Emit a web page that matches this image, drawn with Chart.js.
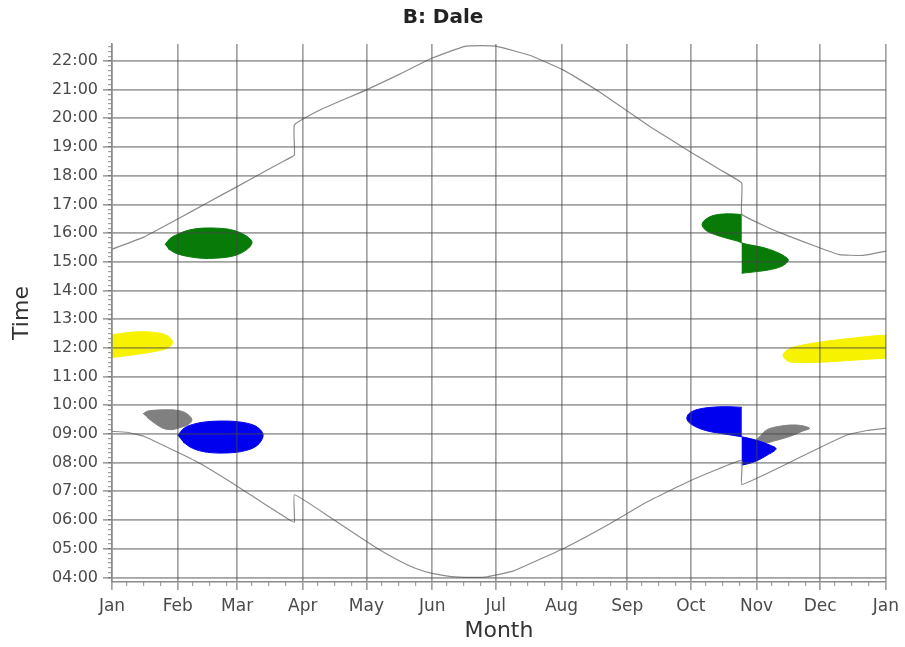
<!DOCTYPE html>
<html lang="en">
<head>
<meta charset="UTF-8">
<title>B: Dale</title>
<script src="https://cdn.jsdelivr.net/npm/chart.js"></script>
<style>
    body { margin: 0; background: #ffffff; }
    #wrap { width: 905px; height: 647px; }
</style>
</head>
<body>
<div id="wrap"><canvas id="chart" width="905" height="647"></canvas></div>
<script>
// x = day of year (0 = 1 Jan), y = clock time in hours
const monthStarts = [0, 31, 59, 90, 120, 151, 181, 212, 243, 273, 304, 334, 365];
const monthLabels = ['Jan', 'Feb', 'Mar', 'Apr', 'May', 'Jun', 'Jul', 'Aug', 'Sep', 'Oct', 'Nov', 'Dec', 'Jan'];
const minorDayOffsets = [7, 15, 23];

// sunset line, with the clock changes at end of March / end of October
const sunsetDays  = [0, 15, 31, 45, 59, 73, 80, 86, 86, 98, 120, 136, 151, 166, 174, 182, 197, 213, 230, 254, 273, 287, 297, 297, 308, 318, 334, 343, 354, 365];
const sunsetHours = [15.44, 15.86, 16.49, 17.06, 17.62, 18.19, 18.47, 18.72, 19.77, 20.29, 20.99, 21.55, 22.1, 22.5, 22.53, 22.5, 22.2, 21.68, 20.92, 19.7, 18.82, 18.2, 17.74, 16.66, 16.24, 15.93, 15.48, 15.25, 15.22, 15.37];

// sunrise line
const sunriseDays  = [0, 7, 15, 31, 42, 59, 73, 79, 86, 86, 103, 114, 125, 135, 143, 151, 160, 169, 177, 189, 213, 235, 252, 273, 297, 297, 315, 334, 347, 356, 365];
const sunriseHours = [9.09, 9.06, 8.92, 8.36, 7.95, 7.18, 6.51, 6.23, 5.92, 6.88, 6.09, 5.55, 5.02, 4.6, 4.32, 4.14, 4.03, 4.0, 4.02, 4.22, 5.01, 5.88, 6.62, 7.38, 8.08, 7.24, 7.84, 8.53, 8.97, 9.12, 9.2];

// activity patches, outlines as [day, hour]
const greenEarly = [[25, 15.6], [27.5, 15.82], [31, 15.96], [36, 16.1], [42, 16.17], [50, 16.17], [56, 16.12], [62, 15.96], [66, 15.7], [64, 15.45], [58, 15.22], [50, 15.13], [41, 15.13], [31, 15.27], [26.5, 15.45]];
const greenLate = [[297, 16.65], [290, 16.67], [284, 16.62], [280, 16.48], [278.3, 16.3], [280, 16.1], [284, 15.96], [290, 15.82], [295, 15.72], [297, 15.66], [300, 15.6], [307, 15.5], [313, 15.35], [317, 15.2], [319, 15.05], [316, 14.85], [310, 14.72], [303, 14.65], [297, 14.6]];
const yellowEarly = [[-3, 12.44], [2, 12.48], [12, 12.56], [21, 12.53], [26, 12.43], [28.5, 12.22], [27, 12.02], [22, 11.9], [12, 11.78], [2, 11.68], [-3, 11.66]];
const yellowLate = [[368, 12.45], [360, 12.42], [349.5, 12.34], [334, 12.2], [321, 12.02], [318, 11.9], [316.5, 11.74], [318, 11.58], [321, 11.5], [334, 11.5], [349.5, 11.57], [360, 11.62], [368, 11.65]];
const grayEarly = [[14.6, 9.7], [17, 9.8], [25, 9.84], [31, 9.82], [35, 9.72], [37.7, 9.5], [36, 9.33], [32, 9.22], [28, 9.15], [24, 9.2], [20, 9.38], [16.5, 9.58]];
const grayLate = [[303, 8.72], [306, 8.95], [309, 9.15], [315, 9.27], [323, 9.31], [329, 9.2], [325, 9.08], [320, 8.92], [312, 8.75], [306, 8.62]];
const blueEarly = [[31, 8.95], [34, 9.2], [38, 9.33], [44, 9.42], [52, 9.45], [60, 9.42], [67, 9.3], [70.5, 9.1], [71.2, 8.9], [68.5, 8.6], [63, 8.42], [55, 8.34], [45, 8.36], [38, 8.5], [33.5, 8.72]];
const blueLate = [[297, 9.93], [290, 9.95], [283, 9.93], [276, 9.85], [272, 9.7], [271.2, 9.5], [274, 9.3], [280, 9.12], [287, 9.02], [293, 8.95], [297, 8.9], [304, 8.78], [310, 8.62], [313.2, 8.48], [309, 8.26], [303, 8.03], [297, 7.91]];

const GREEN = '#087a08', YELLOW = '#f6f200', GRAY = '#808080', BLUE = '#0000ee';
const GRID = 'rgba(70,70,70,0.5)';
const AXIS = '#8a8a8a';

Chart.defaults.font.family = "'DejaVu Sans', sans-serif";

function curve(days, hours) {
    return {
        data: days.map((d, i) => ({x: d, y: hours[i]})),
        borderColor: '#8c8c8c', borderWidth: 1.2,
        pointRadius: 0, tension: 0.1, fill: false
    };
}
function patch(outline, color) {
    return {
        data: outline.map(p => ({x: p[0], y: p[1]})),
        backgroundColor: color, borderColor: color, borderWidth: 1,
        pointRadius: 0, tension: 0.35, fill: 'shape'
    };
}

new Chart(document.getElementById('chart'), {
    type: 'line',
    data: {
        datasets: [
            curve(sunsetDays, sunsetHours),
            curve(sunriseDays, sunriseHours),
            patch(blueEarly, BLUE),
            patch(blueLate, BLUE),
            patch(grayEarly, GRAY),
            patch(grayLate, GRAY),
            patch(greenEarly, GREEN),
            patch(greenLate, GREEN),
            patch(yellowEarly, YELLOW),
            patch(yellowLate, YELLOW)
        ]
    },
    options: {
        responsive: false,
        animation: false,
        layout: { padding: { left: 0, right: 19, top: 0, bottom: 0 } },
        plugins: {
            legend: { display: false },
            tooltip: { enabled: false },
            title: {
                display: true, text: 'B: Dale', color: '#222',
                font: { size: 20, weight: 'bold' },
                padding: { top: 6, bottom: 14 }
            }
        },
        scales: {
            x: {
                type: 'linear', position: 'bottom', weight: 1,
                min: 0, max: 365,
                afterBuildTicks: s => { s.ticks = monthStarts.map(v => ({value: v})); },
                afterFit: s => { s.height = 65; },
                ticks: {
                    autoSkip: false, maxRotation: 0, padding: 6, color: '#4a4a4a',
                    font: { size: 17 },
                    callback: (v, i) => monthLabels[i]
                },
                // grid over the patches, border after the grid
                grid: { color: GRID, lineWidth: 1.7, tickLength: 8, z: 1 },
                border: { color: AXIS, width: 1.5, z: 1 },
                title: { display: true, text: 'Month', color: '#333', font: { size: 22 }, padding: { top: 0, bottom: 3 } }
            },
            xMinor: {
                type: 'linear', position: 'bottom', weight: 0,
                min: 0, max: 365,
                afterBuildTicks: s => {
                    s.ticks = monthStarts.slice(0, -1).flatMap(m => minorDayOffsets.map(o => ({value: m + o})));
                },
                afterFit: s => { s.height = 0; },
                ticks: { display: false },
                grid: { drawOnChartArea: false, color: GRID, lineWidth: 1.2, tickLength: 4 },
                border: { display: false }
            },
            y: {
                type: 'linear', position: 'left', weight: 1,
                min: 3.84, max: 22.59,
                afterFit: s => { s.width = 112; },
                ticks: {
                    stepSize: 1, includeBounds: false, autoSkip: false, padding: 5, color: '#4a4a4a',
                    font: { size: 16 },
                    callback: v => String(v).padStart(2, '0') + ':00'
                },
                grid: { color: GRID, lineWidth: 1.7, tickLength: 9, z: 1 },
                border: { color: AXIS, width: 1.5, z: 1 },
                title: { display: true, text: 'Time', color: '#333', font: { size: 22 }, padding: { top: 9, bottom: 0 } }
            },
            yMinor: {
                type: 'linear', position: 'left', weight: 0,
                min: 3.84, max: 22.59,
                afterBuildTicks: s => {
                    const t = [];
                    for (let k = 24; k <= 135; k++) t.push({value: k / 6});
                    s.ticks = t;
                },
                afterFit: s => { s.width = 0; },
                ticks: { display: false },
                grid: { drawOnChartArea: false, color: GRID, lineWidth: 1.2, tickLength: 4 },
                border: { display: false }
            }
        }
    }
});
</script>
</body>
</html>
